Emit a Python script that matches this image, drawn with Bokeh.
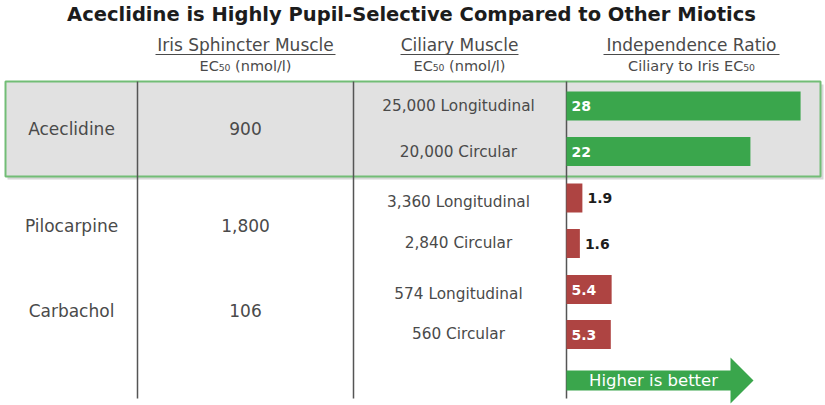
from bokeh.plotting import figure
from bokeh.models import Range1d
from bokeh.core.properties import value
from bokeh.embed import file_html
from bokeh.resources import INLINE

# ---------------- data ----------------
title = "Aceclidine is Highly Pupil-Selective Compared to Other Miotics"
drugs = ["Aceclidine", "Pilocarpine", "Carbachol"]
iris_ec50 = [900, 1800, 106]
ciliary_ec50 = [25000, 20000, 3360, 2840, 574, 560]
muscle_type = ["Longitudinal", "Circular", "Longitudinal", "Circular", "Longitudinal", "Circular"]
ratio = [28, 22, 1.9, 1.6, 5.4, 5.3]
ratio_labels = ["28", "22", "1.9", "1.6", "5.4", "5.3"]
bar_group = ["aceclidine", "aceclidine", "other", "other", "other", "other"]
headers = ["Iris Sphincter Muscle", "Ciliary Muscle", "Independence Ratio"]
subheaders = ["EC\u2085\u2080 (nmol/l)", "EC\u2085\u2080 (nmol/l)", "Ciliary to Iris EC\u2085\u2080"]
arrow_text = "Higher is better"

# ---------------- layout (pixel space) ----------------
W, H = 825, 405
FONT = "DejaVu Sans"
TXT = "#4a4a4a"
GREEN = "#3aa64c"
RED = "#ae4442"
row_y = [105.5, 151, 197.5, 243, 289, 334]
cil_text_y = [105.5, 151, 201, 242, 293, 333]
drug_y = [128, 225, 310]
col_drug_x, col_iris_x, col_cil_x = 71, 245, 458
header_x = [245, 459, 691]
header_half_w = [90, 59, 88]
bar_zero_px = 566
px_per_unit = 8.36

p = figure(width=W, height=H, output_backend="svg", toolbar_location=None,
           x_range=Range1d(0, W), y_range=Range1d(H, 0),
           min_border=0, background_fill_color="white", border_fill_color="white")
p.axis.visible = False
p.grid.visible = False
p.outline_line_color = None
p.extra_x_ranges = {"ratio": Range1d(-bar_zero_px / px_per_unit,
                                     (W - bar_zero_px) / px_per_unit)}

# title
p.text(x=[411], y=[14], text=[title], text_align="center", text_baseline="middle",
       text_font=value(FONT), text_font_style="bold", text_font_size="19.5px", text_color="#1c1c1c")

# headers
p.text(x=header_x, y=[44] * 3, text=headers, text_align="center", text_baseline="middle",
       text_font=value(FONT), text_font_size="17px", text_color=TXT)
p.segment(x0=[hx - hw for hx, hw in zip(header_x, header_half_w)], y0=[54] * 3,
          x1=[hx + hw for hx, hw in zip(header_x, header_half_w)], y1=[54] * 3,
          line_color=TXT, line_width=1)
p.text(x=header_x, y=[65] * 3, text=subheaders, text_align="center", text_baseline="middle",
       text_font=value(FONT), text_font_size="14.5px", text_color=TXT)

# highlight box for Aceclidine
p.quad(left=[7], right=[823], top=[84], bottom=[179], fill_color="#bdbdbd", fill_alpha=0.6, line_color=None)
p.quad(left=[5], right=[820], top=[81], bottom=[176], fill_color="#e1e1e1",
       line_color="#72bd76", line_width=2)

# column dividers
p.segment(x0=[137, 353, 566], y0=[81] * 3, x1=[137, 353, 566], y1=[398] * 3,
          line_color="#555555", line_width=1.5)

# drug names and iris EC50
p.text(x=[col_drug_x] * 3, y=drug_y, text=drugs, text_align="center", text_baseline="middle",
       text_font=value(FONT), text_font_size="17px", text_color=TXT)
p.text(x=[col_iris_x] * 3, y=drug_y, text=[f"{v:,}" for v in iris_ec50], text_align="center",
       text_baseline="middle", text_font=value(FONT), text_font_size="17px", text_color=TXT)

# ciliary EC50
cil_labels = [f"{v:,} {t}" for v, t in zip(ciliary_ec50, muscle_type)]
p.text(x=[col_cil_x] * 6, y=cil_text_y, text=cil_labels, text_align="center", text_baseline="middle",
       text_font=value(FONT), text_font_size="15.3px", text_color=TXT)

# bars
colors = [GREEN if g == "aceclidine" else RED for g in bar_group]
p.hbar(y=row_y, left=0, right=ratio, height=29, fill_color=colors, line_color=None,
       x_range_name="ratio")

inside = [r >= 3 for r in ratio]
in_y = [y for y, i in zip(row_y, inside) if i]
in_t = [t for t, i in zip(ratio_labels, inside) if i]
out_x = [r for r, i in zip(ratio, inside) if not i]
out_y = [y for y, i in zip(row_y, inside) if not i]
out_t = [t for t, i in zip(ratio_labels, inside) if not i]
p.text(x=[0] * len(in_y), y=in_y, text=in_t, x_offset=5, text_align="left", text_baseline="middle",
       text_font=value(FONT), text_font_style="bold", text_font_size="14px", text_color="white",
       x_range_name="ratio")
p.text(x=out_x, y=out_y, text=out_t, x_offset=5, text_align="left", text_baseline="middle",
       text_font=value(FONT), text_font_style="bold", text_font_size="14px", text_color="#1c1c1c",
       x_range_name="ratio")

# "Higher is better" arrow
p.patch(x=[566, 730, 730, 753, 730, 730, 566], y=[370, 370, 357, 380, 403, 390, 390],
        fill_color="#3aa64c", line_color=None)
p.text(x=[653], y=[380], text=[arrow_text], text_align="center", text_baseline="middle",
       text_font=value(FONT), text_font_size="16.5px", text_color="white")

open("out.html", "w").write(file_html(p, INLINE))
